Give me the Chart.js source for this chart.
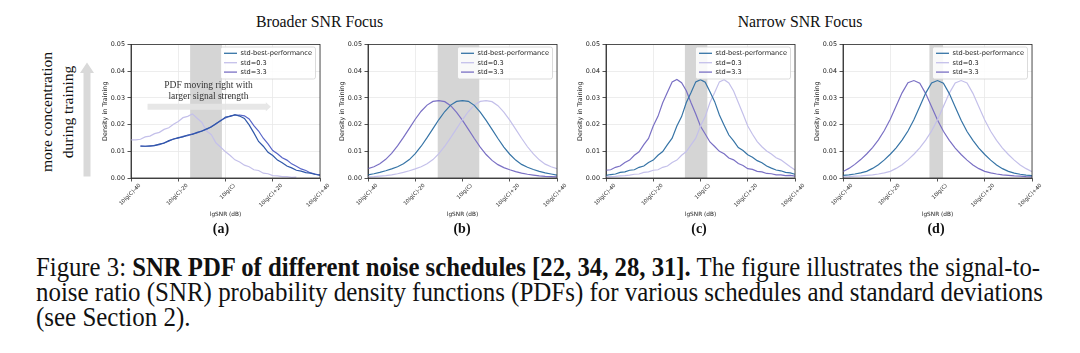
<!DOCTYPE html>
<html><head><meta charset="utf-8">
<script src="https://cdn.jsdelivr.net/npm/chart.js@4.4.1/dist/chart.umd.min.js"></script>
<style>
html,body{margin:0;padding:0;background:#fff;width:1080px;height:353px;overflow:hidden;}
#fig{position:relative;width:1080px;height:353px;background:#fff;}
canvas{position:absolute;}
.serif{font-family:"Liberation Serif","Times New Roman",serif;color:#111;position:absolute;white-space:nowrap;}
.ttl{font-size:15.8px;line-height:18px;transform:translateX(-50%);}
.lab{font-size:14px;line-height:16px;font-weight:bold;transform:translateX(-50%);}
.big{font-size:15.5px;line-height:18px;}
.cap{font-size:27px;line-height:25px;transform-origin:0 0;left:36px;}
</style></head><body>
<div id="fig">
  <div class="serif ttl" style="left:319.5px;top:13px;">Broader SNR Focus</div>
  <div class="serif ttl" style="left:800px;top:13px;">Narrow SNR Focus</div>

  <svg style="position:absolute;left:0;top:0" width="130" height="200">
    <polygon points="83.5,176.5 90.5,176.5 90.5,73 94,73 87,62.5 80,73 83.5,73" fill="#d9d9d9"/>
  </svg>
  <div class="serif big" id="bigt1" style="left:47px;top:112px;transform:translate(-50%,-50%) rotate(-90deg);">more concentration</div>
  <div class="serif big" id="bigt2" style="left:67.5px;top:111.5px;transform:translate(-50%,-50%) rotate(-90deg);">during training</div>

  <canvas id="ca" width="233" height="188" style="left:101px;top:34px;"></canvas>
  <canvas id="cb" width="233" height="188" style="left:338px;top:34px;"></canvas>
  <canvas id="cc" width="233" height="188" style="left:576px;top:34px;"></canvas>
  <canvas id="cd" width="233" height="188" style="left:813px;top:34px;"></canvas>

  <div class="serif lab" style="left:221px;top:221px;">(a)</div>
  <div class="serif lab" style="left:462px;top:221px;">(b)</div>
  <div class="serif lab" style="left:699px;top:221px;">(c)</div>
  <div class="serif lab" style="left:936px;top:221px;">(d)</div>

  <div class="serif cap" id="cap1" style="top:255px;">Figure 3: <b>SNR PDF of different noise schedules [22, 34, 28, 31].</b> The figure illustrates the signal-to-</div>
  <div class="serif cap" id="cap2" style="top:280px;">noise ratio (SNR) probability density functions (PDFs) for various schedules and standard deviations</div>
  <div class="serif cap" id="cap3" style="top:305px;">(see Section 2).</div>
</div>
<script>
// ---------- data ----------
const seriesNames = ['std-best-performance', 'std=0.3', 'std=3.3'];
const xTickValues = [-40, -20, 0, 20, 40];
const xTickLabels = ['10lg(C)-40', '10lg(C)-20', '10lg(C)', '10lg(C)+20', '10lg(C)+40'];
const yTickValues = [0, 0.01, 0.02, 0.03, 0.04, 0.05];

const xGrid2 = [-40,-38,-36,-34,-32,-30,-28,-26,-24,-22,-20,-18,-16,-14,-12,-10,-8,-6,-4,-2,0,2,4,6,8,10,12,14,16,18,20,22,24,26,28,30,32,34,36,38,40];
const xGrid25 = [-40,-37.5,-35,-32.5,-30,-27.5,-25,-22.5,-20,-17.5,-15,-12.5,-10,-7.5,-5,-2.5,0,2.5,5,7.5,10,12.5,15,17.5,20,22.5,25,27.5,30,32.5,35,37.5,40];

// (a) Broader SNR focus
const bestA = [null,null,.0119,.0119,.0120,.0121,.0127,.0130,.0140,.0145,.0151,.0154,.0161,.0163,.0171,.0175,.0184,.0191,.0204,.0214,.0228,.0231,.0237,.0232,.0223,.0199,.0169,.0137,.0119,.0096,.0084,.0067,.0057,.0045,.0038,.0029,.0026,.0020,.0018,.0013,.0012];
const std03A = [.0143,.0143,.0145,.0154,.0157,.0166,.0171,.0182,.0188,.0201,.0212,.0226,.0231,.0240,.0224,.0208,.0176,.0162,.0131,.0115,.0098,.0084,.0068,.0060,.0048,.0042,.0031,.0028,.0018,.0016,.0009,.0008,.0005,.0005,.0002,.0003,null,null,null,null,null];
const std33A = [null,null,.0120,.0119,.0119,.0122,.0125,.0132,.0138,.0147,.0149,.0156,.0159,.0165,.0169,.0177,.0182,.0193,.0202,.0216,.0225,.0233,.0235,.0236,.0233,.0221,.0196,.0176,.0149,.0128,.0103,.0091,.0076,.0067,.0053,.0044,.0034,.0028,.0019,.0015,.0010];
const bandA = [-15, -1.5];

// (b)
const bestB = [.0012,.0016,.0021,.0027,.0034,.0042,.0053,.0069,.0091,.0119,.0151,.0185,.0219,.0249,.0273,.0287,.0290,.0287,.0272,.0247,.0216,.0182,.0148,.0116,.0089,.0067,.0051,.0040,.0032,.0025,.0019,.0015,.0011];
const std03B = [.0004,.0005,.0007,.0009,.0012,.0016,.0021,.0027,.0034,.0042,.0053,.0069,.0091,.0119,.0151,.0185,.0219,.0249,.0273,.0287,.0290,.0286,.0271,.0247,.0217,.0183,.0149,.0117,.0090,.0068,.0052,.0042,.0035];
const std33B = [.0035,.0042,.0053,.0070,.0092,.0120,.0152,.0186,.0220,.0250,.0273,.0287,.0290,.0286,.0271,.0246,.0216,.0182,.0148,.0116,.0088,.0066,.0050,.0039,.0031,.0024,.0018,.0014,.0011,.0008,.0006,.0005,.0004];
const bandB = [-10.6, 7.2];

// (c)
const bestC = [.0010,.0013,.0015,.0021,.0023,.0029,.0031,.0040,.0045,.0058,.0067,.0085,.0099,.0125,.0149,.0195,.0230,.0283,.0320,.0360,.0368,.0359,.0323,.0286,.0236,.0198,.0161,.0139,.0114,.0103,.0087,.0078,.0065,.0057,.0045,.0037,.0030,.0027,.0021,.0019,.0014];
const std03C = [.0004,.0005,.0006,.0008,.0009,.0011,.0014,.0015,.0021,.0023,.0029,.0031,.0040,.0045,.0058,.0067,.0085,.0099,.0124,.0149,.0195,.0230,.0283,.0320,.0360,.0368,.0356,.0326,.0283,.0240,.0195,.0164,.0136,.0117,.0101,.0090,.0076,.0068,.0055,.0042,.0030];
const std33C = [.0029,.0031,.0040,.0045,.0058,.0067,.0085,.0098,.0125,.0148,.0195,.0231,.0282,.0321,.0360,.0369,.0357,.0327,.0282,.0240,.0194,.0165,.0135,.0118,.0100,.0091,.0075,.0068,.0054,.0047,.0035,.0032,.0025,.0023,.0017,.0016,.0012,.0012,.0009,.0010,.0007];
const bandC = [-6.7, 3.0];

// (d)
const bestD = [.0010,.0012,.0015,.0019,.0025,.0036,.0050,.0068,.0089,.0113,.0142,.0176,.0218,.0268,.0318,.0356,.0365,.0355,.0316,.0266,.0216,.0174,.0141,.0112,.0088,.0067,.0049,.0035,.0025,.0018,.0014,.0011,.0009];
const std03D = [.0004,.0005,.0007,.0008,.0010,.0012,.0015,.0019,.0025,.0036,.0050,.0068,.0089,.0113,.0142,.0176,.0218,.0268,.0318,.0356,.0365,.0356,.0317,.0267,.0217,.0175,.0141,.0112,.0088,.0067,.0049,.0035,.0024];
const std33D = [.0024,.0036,.0051,.0069,.0090,.0114,.0143,.0178,.0220,.0270,.0319,.0357,.0365,.0355,.0316,.0267,.0217,.0175,.0141,.0112,.0088,.0067,.0049,.0035,.0025,.0019,.0015,.0012,.0010,.0008,.0007,.0005,.0004];
const bandD = [-3.5, 2.4];

// ---------- styling ----------
const SANS = 'DejaVu Sans';
const colorsMain = ['#3674a6', '#c4c0ea', '#7a70c4'];
const colorsA = ['#2f57a8', '#c4c0ea', '#5866c8'];
const legendColors = ['#3674a6', '#c4c0ea', '#7a70c4'];
const bandColor = '#d5d5d5';

const framePlugin = {
  id: 'frame',
  afterDraw(chart) {
    const {ctx, chartArea: a} = chart;
    ctx.save();
    ctx.strokeStyle = '#2a2a2a';
    ctx.lineWidth = 0.8;
    ctx.strokeRect(a.left, a.top, a.right - a.left, a.bottom - a.top);
    // legend box inside the axes (top-right)
    const w = 95, h = 32;
    const x = a.right - 4.5 - w, y = a.top + 2.5;
    ctx.beginPath();
    if (ctx.roundRect) ctx.roundRect(x, y, w, h, 2); else ctx.rect(x, y, w, h);
    ctx.fillStyle = 'rgba(255,255,255,0.85)';
    ctx.fill();
    ctx.strokeStyle = '#d2d2d2';
    ctx.lineWidth = 0.8;
    ctx.stroke();
    ctx.font = '6.6px "' + SANS + '"';
    ctx.textBaseline = 'middle';
    ctx.textAlign = 'left';
    seriesNames.forEach((name, k) => {
      const ly = y + 6.3 + 9.4 * k;
      ctx.strokeStyle = legendColors[k];
      ctx.lineWidth = 1.3;
      ctx.beginPath(); ctx.moveTo(x + 3.5, ly); ctx.lineTo(x + 16.5, ly); ctx.stroke();
      ctx.fillStyle = '#222';
      ctx.fillText(name, x + 20, ly + 0.3);
    });
    ctx.restore();
  }
};

const annotatePlugin = {
  id: 'annotA',
  afterDatasetsDraw(chart) {
    const {ctx} = chart;
    const sx = chart.scales.x, sy = chart.scales.y;
    const x1 = sx.getPixelForValue(-33), x2 = sx.getPixelForValue(19.2);
    const ya = sy.getPixelForValue(0.0267);
    ctx.save();
    ctx.fillStyle = 'rgba(228,228,228,0.9)';
    ctx.beginPath();
    ctx.moveTo(x1, ya - 3); ctx.lineTo(x2 - 5, ya - 3); ctx.lineTo(x2 - 5, ya - 4.5);
    ctx.lineTo(x2, ya); ctx.lineTo(x2 - 5, ya + 4.5); ctx.lineTo(x2 - 5, ya + 3);
    ctx.lineTo(x1, ya + 3); ctx.closePath(); ctx.fill();
    ctx.fillStyle = '#333';
    ctx.font = '9.5px "Liberation Serif"';
    ctx.textAlign = 'center';
    ctx.textBaseline = 'middle';
    const xt = sx.getPixelForValue(-7.2);
    ctx.fillText('PDF moving right with', xt, sy.getPixelForValue(0.0348));
    ctx.fillText('larger signal strength', xt, sy.getPixelForValue(0.0307));
    ctx.restore();
  }
};

function makePanel(id, xs, ys, band, colors, extra) {
  const datasets = seriesNames.map((name, k) => ({
    label: name,
    data: xs.map((x, i) => ({x: x, y: ys[k][i]})),
    borderColor: colors[k],
    backgroundColor: colors[k],
    borderWidth: 1.2,
    pointRadius: 0,
    tension: 0,
    fill: false,
    spanGaps: false,
    order: k === 0 ? 0 : 1
  }));
  datasets.push({
    label: 'band',
    data: [{x: band[0], y: 0.05}, {x: band[1], y: 0.05}],
    borderWidth: 0,
    borderColor: 'rgba(0,0,0,0)',
    backgroundColor: bandColor,
    fill: 'origin',
    pointRadius: 0,
    order: 9
  });
  const gridOpts = {color: '#e9e9e9', lineWidth: 0.8, tickLength: 3.5, tickColor: '#2a2a2a', tickWidth: 0.8};
  return new Chart(document.getElementById(id), {
    type: 'line',
    data: {datasets: datasets},
    plugins: extra ? [extra, framePlugin] : [framePlugin],
    options: {
      responsive: false,
      animation: false,
      devicePixelRatio: 1,
      layout: {padding: {left: 0, top: 10.5, right: 14, bottom: 0}},
      plugins: {legend: {display: false}, tooltip: {enabled: false}},
      scales: {
        x: {
          type: 'linear', min: -40, max: 40,
          afterBuildTicks(s) { s.ticks = xTickValues.map(v => ({value: v})); },
          afterFit(s) { s.height = 44; },
          ticks: {
            autoSkip: false, maxRotation: 45, minRotation: 45,
            font: {family: SANS, size: 5.3}, color: '#222', padding: 1, labelOffset: 9,
            callback: (v, i) => xTickLabels[i]
          },
          grid: gridOpts,
          border: {display: true, color: '#2a2a2a', width: 0.8},
          title: {display: true, text: 'lgSNR (dB)', font: {family: SANS, size: 5.8}, color: '#222', padding: {top: 0, bottom: 4}}
        },
        y: {
          min: 0, max: 0.05,
          afterBuildTicks(s) { s.ticks = yTickValues.map(v => ({value: v})); },
          afterFit(s) { s.width = 30; },
          ticks: {font: {family: SANS, size: 6.4}, color: '#222', padding: 2.5, callback: v => v.toFixed(2)},
          grid: gridOpts,
          border: {display: true, color: '#2a2a2a', width: 0.8},
          title: {display: true, text: 'Density in Training', font: {family: SANS, size: 6.4}, color: '#222', padding: {top: 0.5, bottom: 0}}
        }
      }
    }
  });
}

makePanel('ca', xGrid2, [bestA, std03A, std33A], bandA, colorsA, annotatePlugin);
makePanel('cb', xGrid25, [bestB, std03B, std33B], bandB, colorsMain, null);
makePanel('cc', xGrid2, [bestC, std03C, std33C], bandC, colorsMain, null);
makePanel('cd', xGrid25, [bestD, std03D, std33D], bandD, colorsMain, null);

// fit caption lines to the justified width of the reference
(function () {
  const c1 = document.getElementById('cap1'), c2 = document.getElementById('cap2'), c3 = document.getElementById('cap3');
  const w1 = c1.getBoundingClientRect().width, w2 = c2.getBoundingClientRect().width;
  const s2 = 1007 / w2;
  c1.style.transform = 'scaleX(' + (1004 / w1) + ')';
  c2.style.transform = 'scaleX(' + s2 + ')';
  c3.style.transform = 'scaleX(' + s2 + ')';
})();
</script>
</body></html>
